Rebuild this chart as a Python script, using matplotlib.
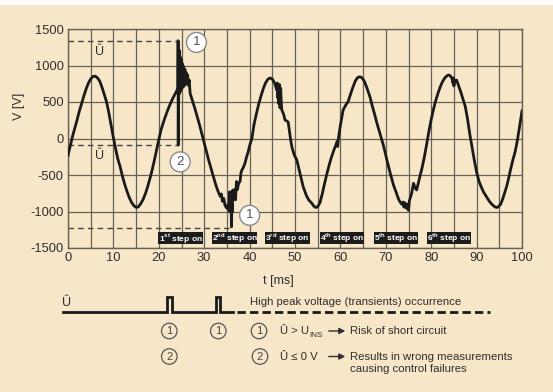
import matplotlib.pyplot as plt
from matplotlib import font_manager
from matplotlib.patches import Rectangle

# pick a narrow sans if it is there
names = {f.name for f in font_manager.fontManager.ttflist}
FONT = 'Liberation Sans Narrow' if 'Liberation Sans Narrow' in names else 'Liberation Sans'
plt.rcParams['font.family'] = [FONT, 'DejaVu Sans']
plt.rcParams['mathtext.fontset'] = 'custom'
plt.rcParams['mathtext.rm'] = FONT
plt.rcParams['mathtext.bf'] = FONT + ':bold'
plt.rcParams['axes.unicode_minus'] = False

BG = '#f7e7c8'
GRID = '#676055'
TXT = '#2e2e2e'
LINE = '#1a1a1a'
FS = 8.2  # legend text size

wave_pts = [
    (0, -230), (0.5, -100), (1.0, 30), (1.5, 140), (2.0, 255), (2.5, 375), (3.0, 480),
    (3.5, 585), (4.0, 680), (4.5, 760), (5.0, 815), (5.5, 850), (6.0, 855), (6.5, 830),
    (7.0, 785), (7.5, 700), (8.0, 600), (8.5, 500), (9.0, 350), (9.5, 180), (10.0, 10),
    (10.5, -145), (11.0, -286), (11.5, -390), (12.0, -520), (12.5, -630), (13.0, -725),
    (13.5, -810), (14.0, -875), (14.5, -920), (15.0, -943), (15.5, -937), (16.0, -895),
    (16.5, -840), (17.0, -765), (17.5, -670), (18.0, -560), (18.5, -440), (19.0, -305),
    (19.5, -160), (20.0, -15), (20.5, 120), (21.0, 220), (21.5, 310), (22.0, 395),
    (22.5, 470), (23.0, 540), (23.5, 600), (24.0, 660), (24.2, 690),
    # 1st transient
    (24.25, 1340), (24.28, -90), (24.33, 900), (24.4, 600), (24.5, 1210), (24.6, 620),
    (24.7, 1120), (24.8, 650), (24.9, 1090), (25.0, 680), (25.15, 1030), (25.3, 700),
    (25.45, 990), (25.6, 720), (25.75, 950), (25.9, 740), (26.05, 900), (26.2, 760),
    (26.35, 870), (26.5, 730), (26.7, 800), (26.9, 620),
    (27.5, 500), (28.0, 400), (28.5, 290), (29.0, 180), (29.5, 60), (30.0, -60),
    (30.5, -180), (31.0, -300), (31.5, -410), (32.0, -520), (32.5, -625), (33.0, -715),
    (33.5, -790), (33.8, -760), (34.0, -860), (34.3, -820), (34.6, -920), (35.0, -956),
    # 2nd transient
    (35.3, -900), (35.5, -1000), (35.6, -730), (35.75, -1000), (35.9, -800), (36.0, -1210),
    (36.1, -900), (36.2, -1000), (36.3, -705), (36.5, -840), (36.7, -700), (36.9, -840),
    (37.1, -590), (37.3, -700), (37.6, -610), (37.9, -590), (38.1, -470), (38.3, -431),
    (38.6, -400), (39.0, -336), (39.3, -260), (39.7, -180), (40.0, -100),
    (40.5, 0), (41.0, 200), (41.5, 340), (42.0, 470), (42.5, 580), (43.0, 680),
    (43.5, 760), (44.0, 810), (44.5, 830), (45.0, 815), (45.5, 760), (46.0, 664),
    (46.1, 760), (46.2, 560), (46.3, 730), (46.4, 480), (46.55, 740), (46.7, 420),
    (46.85, 690), (47.0, 460), (47.1, 390), (47.5, 330), (47.8, 253), (48.2, 240),
    (48.5, 225), (49.0, 0), (49.3, -112), (49.8, -220), (50.4, -295), (51.0, -450),
    (51.8, -660), (52.5, -780), (53.0, -840), (53.7, -888), (54.2, -930), (54.6, -945),
    (55.0, -935), (55.5, -880), (56.0, -760), (56.5, -620), (57.0, -490), (57.5, -370),
    (58.0, -260), (58.5, -170), (59.0, -90), (59.3, -40), (59.4, -110), (59.6, 20),
    (60.0, 180), (60.6, 390), (61.2, 460), (61.7, 504), (62.3, 620), (62.8, 710),
    (63.3, 790), (63.8, 835), (64.3, 846), (64.8, 830), (65.3, 780), (65.8, 700),
    (66.5, 573), (67.0, 450), (67.5, 340), (68.0, 220), (68.7, 71), (69.5, -100),
    (70.0, -230), (70.5, -360), (71.0, -480), (71.7, -640), (72.3, -740), (72.8, -830),
    (73.1, -865), (73.5, -900), (73.8, -870), (74.0, -940), (74.2, -880), (74.5, -955),
    (74.7, -900), (75.0, -985), (75.2, -850), (75.5, -790), (75.7, -750), (76.1, -614),
    (76.5, -680), (76.8, -705), (77.2, -600), (77.5, -523), (78.0, -400), (78.5, -250),
    (79.0, -80), (79.5, 100), (80.0, 260), (80.5, 400), (81.0, 520), (81.5, 620),
    (82.0, 710), (82.5, 780), (83.0, 830), (83.5, 860), (83.8, 870), (84.2, 860),
    (84.6, 820), (84.8, 760), (84.9, 830), (85.0, 720), (85.2, 800), (85.4, 780),
    (85.6, 800), (86.0, 730), (86.5, 640), (87.0, 540), (87.5, 440), (88.0, 270),
    (88.5, 60), (89.0, -120), (89.5, -300), (90.0, -460), (90.5, -580), (91.0, -660),
    (91.5, -730), (92.2, -800), (92.8, -860), (93.5, -910), (94.0, -935), (94.4, -945),
    (94.8, -935), (95.3, -900), (95.8, -820), (96.3, -720), (96.6, -660), (97.0, -560),
    (97.5, -420), (98.0, -290), (98.5, -180), (99.0, -20), (99.5, 180), (100.0, 377),
]

# peak markers
u_hat_high = 1340
u_hat_low = -90
u_hat_neg = -1220
spike_t = [24.25, 36.0]

step_start = [19.9, 31.8, 43.4, 55.5, 67.3, 79.0]
step_num = ['1', '2', '3', '4', '5', '6']
step_suf = ['st', 'nd', 'rd', 'th', 'th', 'th']
step_width = 9.8

circle_t = [28.3, 24.7, 40.0]
circle_v = [1316, -320, -1052]
circle_lbl = ['1', '2', '1']

# lower schematic (figure pixels)
pulse_x = [166.7, 216.0]
pulse_w = [5.0, 4.0]

fig = plt.figure(figsize=(5.53, 3.92), dpi=100, facecolor=BG)
ax = fig.add_axes([68 / 553, 1 - 248 / 392, 454 / 553, 219 / 392])
ax.set_facecolor(BG)
ax.set_xlim(0, 100)
ax.set_ylim(-1500, 1500)
ax.set_xticks(range(0, 101, 10))
ax.set_xticks(range(5, 100, 10), minor=True)
ax.set_yticks(range(-1500, 1501, 500))
ax.grid(which='both', color=GRID, lw=0.9)
ax.set_axisbelow(True)
ax.tick_params(which='both', length=0, pad=3, labelsize=9.3, colors=TXT)
for s in ax.spines.values():
    s.set_color(GRID)
    s.set_linewidth(1)

ax.set_xlabel('t [ms]', fontsize=9, color=TXT)
ax.xaxis.set_label_coords(0.463, -0.125)
ax.set_ylabel('V [V]', fontsize=9, color=TXT)
ax.yaxis.set_label_coords(-0.095, 0.645)

t, v = zip(*wave_pts)
ax.plot(t, v, color=LINE, lw=2.0, solid_joinstyle='round', zorder=3)

dash = dict(color='#444444', lw=1.0, ls=(0, (4, 3)), zorder=2)
ax.plot([0, spike_t[0]], [u_hat_high, u_hat_high], **dash)
ax.plot([0, spike_t[0]], [u_hat_low, u_hat_low], **dash)
ax.plot([0, spike_t[1]], [u_hat_neg, u_hat_neg], **dash)
ax.text(7, 1180, 'Û', fontsize=9, color=TXT, ha='center', va='center')
ax.text(7, -245, 'Û', fontsize=9, color=TXT, ha='center', va='center')

for ct, cv, cl in zip(circle_t, circle_v, circle_lbl):
    ax.text(ct, cv, cl, fontsize=9.5, color='#555555', ha='center', va='center', zorder=6,
            bbox=dict(boxstyle='circle,pad=0.3', fc='white', ec='#8a8a8a', lw=1))

for s0, n, suf in zip(step_start, step_num, step_suf):
    ax.add_patch(Rectangle((s0, -1448), step_width, 164, fc='#1c1c1c', ec='none', zorder=5))
    ax.text(s0 + step_width / 2, -1366, n + r'$^{\mathbf{' + suf + '}}$ step on', color='white',
            fontsize=6, fontweight='bold', ha='center', va='center', zorder=6)

# overlay in pixel coords for the schematic below
ov = fig.add_axes([0, 0, 1, 1])
ov.set_xlim(0, 553)
ov.set_ylim(392, 0)
ov.axis('off')
ov.patch.set_alpha(0)
ov.add_patch(Rectangle((0, 0), 553, 5, fc='white', ec='none'))

base_y, top_y = 312, 297
px, py = [63], [base_y]
for x0, w in zip(pulse_x, pulse_w):
    px += [x0, x0, x0 + w, x0 + w]
    py += [base_y, top_y, top_y, base_y]
px.append(233)
py.append(base_y)
ov.plot(px, py, color=LINE, lw=2.0, solid_joinstyle='miter')
ov.plot([237, 490], [base_y, base_y], color=LINE, lw=2.0, ls=(0, (3, 1.5)))
ov.text(66.7, 303, 'Û', fontsize=9, color=TXT, ha='center', va='center')
ov.text(250, 302, 'High peak voltage (transients) occurrence', fontsize=FS, color=TXT,
        ha='left', va='center')

small = dict(fontsize=8, color='#444444', ha='center', va='center',
             bbox=dict(boxstyle='circle,pad=0.25', fc=BG, ec='#555555', lw=0.9))
for cx, cy, cl in [(169.3, 331, '1'), (218.3, 331, '1'), (259, 331, '1'),
                   (169.3, 356.5, '2'), (260, 356.5, '2')]:
    ov.text(cx, cy, cl, **small)

ov.text(280, 331, 'Û > U', fontsize=FS, color=TXT, ha='left', va='center')
ov.text(309.5, 335.5, 'INS', fontsize=5.8, color=TXT, ha='left', va='center')
ov.text(280, 356.5, 'Û ≤ 0 V', fontsize=FS, color=TXT, ha='left', va='center')
arrow = dict(arrowstyle='-|>,head_length=0.35,head_width=0.18', color=TXT, lw=1)
for ay in [331, 356.5]:
    ov.annotate('', xy=(348, ay), xytext=(326, ay), arrowprops=arrow)
ov.text(349.5, 331, 'Risk of short circuit', fontsize=FS, color=TXT, ha='left', va='center')
ov.text(349.5, 356.5, 'Results in wrong measurements', fontsize=FS, color=TXT,
        ha='left', va='center')
ov.text(349.5, 369.5, 'causing control failures', fontsize=FS, color=TXT, ha='left', va='center')

fig.savefig('out.png', dpi=100, facecolor=BG)
